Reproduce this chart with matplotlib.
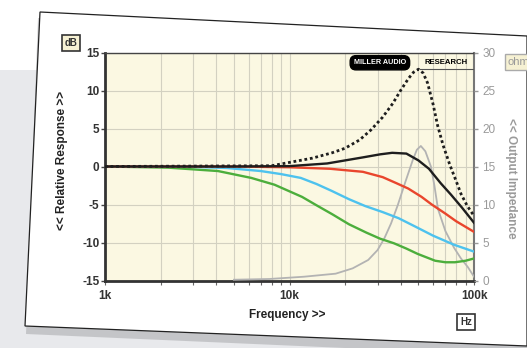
import matplotlib
matplotlib.use('Agg')
import matplotlib.pyplot as plt
from matplotlib.patches import Polygon, Rectangle
from matplotlib.ticker import FixedLocator, NullFormatter

plt.rcParams['font.family'] = ['Liberation Sans', 'DejaVu Sans']

# values
black_f = [1000, 5000, 10000, 16000, 25000, 31000, 36000, 43000, 50000, 57000, 66000, 75000, 86000, 100000]
black_db = [0, 0, 0.05, 0.4, 1.2, 1.6, 1.8, 1.7, 0.8, -0.3, -2.2, -3.7, -5.4, -7.4]

red_f = [1000, 5000, 10000, 16600, 25000, 32000, 38000, 44000, 52000, 59000, 70000, 80000, 100000]
red_db = [0, 0, -0.1, -0.3, -0.7, -1.4, -2.2, -2.9, -4.0, -5.0, -6.2, -7.2, -8.6]

cyan_f = [1000, 3000, 4600, 7000, 9000, 11500, 14000, 16900, 21000, 25700, 32000, 39000, 48000, 60000, 78000, 100000]
cyan_db = [0, -0.05, -0.2, -0.6, -1.0, -1.5, -2.3, -3.2, -4.3, -5.2, -6.0, -6.8, -7.9, -9.1, -10.3, -11.2]

green_f = [1000, 2200, 4100, 6200, 8300, 11700, 14000, 17100, 21000, 26100, 31000, 36800, 43000, 49500, 61600, 70000, 78800, 90000, 100000]
green_db = [0, -0.15, -0.6, -1.5, -2.4, -4.0, -5.1, -6.3, -7.6, -8.7, -9.5, -10.1, -10.8, -11.5, -12.4, -12.6, -12.6, -12.4, -12.1]

dotted_f = [1000, 8000, 13300, 17000, 20000, 24000, 27600, 32000, 36300, 40000, 44200, 47000, 50000, 53000, 56000, 60000, 63500, 68000, 74000, 80000, 85000, 92000, 100000]
dotted_db = [0, 0.1, 1.1, 1.8, 2.4, 3.5, 4.8, 6.5, 8.3, 10.0, 11.6, 12.4, 12.8, 12.3, 11.0, 8.2, 5.4, 2.8, 0.2, -1.9, -3.6, -5.2, -6.5]

gray_f = [5000, 7800, 12000, 17800, 22000, 26700, 30000, 32600, 35500, 38600, 42500, 46500, 49000, 51500, 54500, 58400, 61000, 63800, 70000, 78000, 85000, 92700, 100000]
gray_ohm = [0.1, 0.2, 0.5, 0.9, 1.6, 2.7, 4.0, 5.5, 7.5, 9.9, 13.0, 15.8, 17.2, 17.7, 17.0, 15.0, 12.5, 9.4, 6.5, 4.3, 2.9, 1.75, 0.5]

db_ticks = [-15, -10, -5, 0, 5, 10, 15]
ohm_ticks = [0, 5, 10, 15, 20, 25, 30]
freq_minor = [2000, 3000, 4000, 5000, 6000, 7000, 8000, 9000,
              20000, 30000, 40000, 50000, 60000, 70000, 80000, 90000]

W, H = 527, 348
fig = plt.figure(figsize=(W / 100, H / 100), dpi=100)
fig.patch.set_facecolor('white')


def px(x, y):
    return (x / W, 1 - y / H)


# backdrop: grey band, shadow and the white card
fig.add_artist(Rectangle((0, 0), 1, 1 - 70 / H, transform=fig.transFigure,
                         facecolor='#e8e9ec', edgecolor='none', zorder=0))
fig.add_artist(Polygon([px(38, 18), px(527, 42), px(527, 356), px(26, 334)], closed=True,
                       transform=fig.transFigure, facecolor='#9a9b9e', alpha=0.45,
                       edgecolor='none', zorder=0.5))
fig.add_artist(Polygon([px(40, 12), px(527, 36), px(527, 346), px(25, 326)], closed=True,
                       transform=fig.transFigure, facecolor='white',
                       edgecolor='#222222', linewidth=0.9, zorder=1))

ax = fig.add_axes([105 / W, 1 - 280.5 / H, 369 / W, 228 / H], zorder=2)
ax.set_facecolor('#fbf8e2')
ax.set_xscale('log')
ax.set_xlim(1000, 100000)
ax.set_ylim(-15, 15)

ax.plot(gray_f, [o - 15 for o in gray_ohm], color='#b3b3b3', lw=1.3, zorder=3)
ax.plot(green_f, green_db, color='#4cae3c', lw=1.7, zorder=4)
ax.plot(cyan_f, cyan_db, color='#4dc2ee', lw=1.7, zorder=4)
ax.plot(red_f, red_db, color='#e9462d', lw=1.7, zorder=5)
ax.plot(black_f, black_db, color='#1e1e1e', lw=1.7, zorder=6)
ax.plot(dotted_f, dotted_db, color='#1e1e1e', lw=2, ls=(0, (1, 1)), zorder=7)

ax.set_yticks(db_ticks)
ax.set_yticklabels([str(t) for t in db_ticks], fontsize=8.5, fontweight='bold', color='#333333')
ax.xaxis.set_major_locator(FixedLocator([1000, 10000, 100000]))
ax.xaxis.set_minor_locator(FixedLocator(freq_minor))
ax.xaxis.set_minor_formatter(NullFormatter())
ax.set_xticklabels(['1k', '10k', '100k'], fontsize=8.5, fontweight='bold', color='#333333')
ax.tick_params(axis='y', length=3, width=1, color='#444444', pad=1)
ax.tick_params(axis='x', which='both', length=3, width=0.8, color='#666666', pad=4)
ax.grid(True, which='both', color='#d3d1c1', lw=0.8)
ax.set_axisbelow(True)

for side in ['left', 'bottom']:
    ax.spines[side].set_color('#333333')
    ax.spines[side].set_linewidth(2)
ax.spines['top'].set_color('#444444')
ax.spines['top'].set_linewidth(1)
ax.spines['right'].set_color('#777777')
ax.spines['right'].set_linewidth(1.5)

ax2 = ax.twinx()
ax2.set_ylim(0, 30)
ax2.set_yticks(ohm_ticks)
ax2.set_yticklabels([str(t) for t in ohm_ticks], fontsize=8.5, color='#9a9a9a')
ax2.tick_params(axis='y', length=3, width=1, color='#999999', pad=3)
for side in ['left', 'bottom', 'top', 'right']:
    ax2.spines[side].set_visible(False)

# logo
ax.text(0.745, 0.955, 'MILLER AUDIO', transform=ax.transAxes, fontsize=5.2,
        fontweight='bold', color='white', ha='center', va='center', zorder=8,
        bbox=dict(boxstyle='round,pad=0.5,rounding_size=0.8', fc='black', ec='black'))
ax.text(0.925, 0.958, 'RESEARCH', transform=ax.transAxes, fontsize=5.6,
        fontweight='bold', color='black', ha='center', va='center', zorder=8)
ax.plot([0.855, 1.0], [0.928, 0.928], transform=ax.transAxes, color='#555555', lw=0.8, zorder=8)

# labels
fig.text(*px(62, 160), '<< Relative Response >>', rotation=90, ha='center', va='center',
         fontsize=8.5, fontweight='bold', color='#222222')
fig.text(*px(511, 178), '<< Output Impedance', rotation=-90, ha='center', va='center',
         fontsize=8.5, fontweight='bold', color='#9a9a9a')
fig.text(*px(287, 315), 'Frequency >>', ha='center', va='center',
         fontsize=8.5, fontweight='bold', color='#222222')
fig.text(*px(71, 43), 'dB', ha='center', va='center', fontsize=7, fontweight='bold', color='#333333',
         bbox=dict(boxstyle='square,pad=0.3', fc='#f6f1d3', ec='#333333', lw=1.2))
fig.text(*px(466, 322), 'Hz', ha='center', va='center', fontsize=7, fontweight='bold', color='#333333',
         bbox=dict(boxstyle='square,pad=0.3', fc='white', ec='#333333', lw=1.2))
fig.text(*px(508, 62), 'ohm', ha='left', va='center', fontsize=8, color='#9a9a9a',
         bbox=dict(boxstyle='square,pad=0.25', fc='#f6f1d3', ec='#aaaaaa', lw=1))

fig.savefig('out.png', dpi=100)
